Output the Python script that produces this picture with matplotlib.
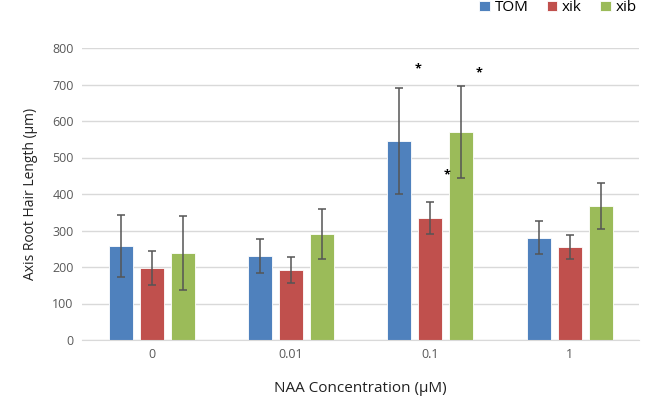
import matplotlib

matplotlib.use("Agg")
import matplotlib.pyplot as plt
import numpy as np

categories = ["0", "0.01", "0.1", "1"]
series = ["TOM", "xik", "xib"]
tom_vals = [257, 230, 545, 280]
tom_err = [85, 47, 145, 45]
xik_vals = [197, 192, 334, 255]
xik_err = [47, 35, 44, 34]
xib_vals = [238, 290, 570, 367]
xib_err = [102, 68, 125, 63]
colors = ["#4F81BD", "#C0504D", "#9BBB59"]

# significance stars: (category index, offset from category centre, y value)
stars = [(2, -0.09, 742), (2, 0.35, 732), (2, 0.12, 452)]

plt.rcParams["font.family"] = ["Open Sans", "DejaVu Sans"]

fig = plt.figure(figsize=(6.51, 4.0), dpi=100)
ax = fig.add_axes([0.126, 0.15, 0.856, 0.73])

x = np.arange(len(categories))
width = 0.172
step = 0.222
values = [tom_vals, xik_vals, xib_vals]
errors = [tom_err, xik_err, xib_err]

for i, (name, vals, errs, c) in enumerate(zip(series, values, errors, colors)):
    pos = x + (i - 1) * step
    ax.bar(pos, vals, width, color=c, edgecolor="white", linewidth=0.6,
           label=name, zorder=2)
    ax.errorbar(pos, vals, yerr=errs, fmt="none", ecolor="#555555",
                elinewidth=1.1, capsize=3, capthick=1.1, zorder=3)

for ci, off, yv in stars:
    ax.text(x[ci] + off, yv, "*", ha="center", va="center",
            fontsize=9, fontweight="bold", color="black")

ax.set_xlim(-0.5, len(categories) - 0.5)
ax.set_ylim(0, 800)
ax.set_yticks(range(0, 801, 100))
ax.set_xticks(x)
ax.set_xticklabels(categories)
ax.yaxis.grid(True, color="#D9D9D9", linewidth=1, zorder=0)
ax.set_axisbelow(True)
for s in ["top", "right", "left"]:
    ax.spines[s].set_visible(False)
ax.spines["bottom"].set_color("#D9D9D9")
ax.tick_params(axis="both", length=0, labelsize=9, colors="#595959", pad=6)

ax.set_ylabel("Axis Root Hair Length (µm)", fontsize=10, color="#222222",
              labelpad=10)
ax.set_xlabel("NAA Concentration (µM)", fontsize=11, color="#222222",
              labelpad=14)

ax.legend(loc="upper right", bbox_to_anchor=(1.02, 1.21), ncol=3, frameon=False,
          fontsize=11, handlelength=0.7, handleheight=0.7, handletextpad=0.3,
          columnspacing=1.2)

plt.savefig("out.png", dpi=100)
